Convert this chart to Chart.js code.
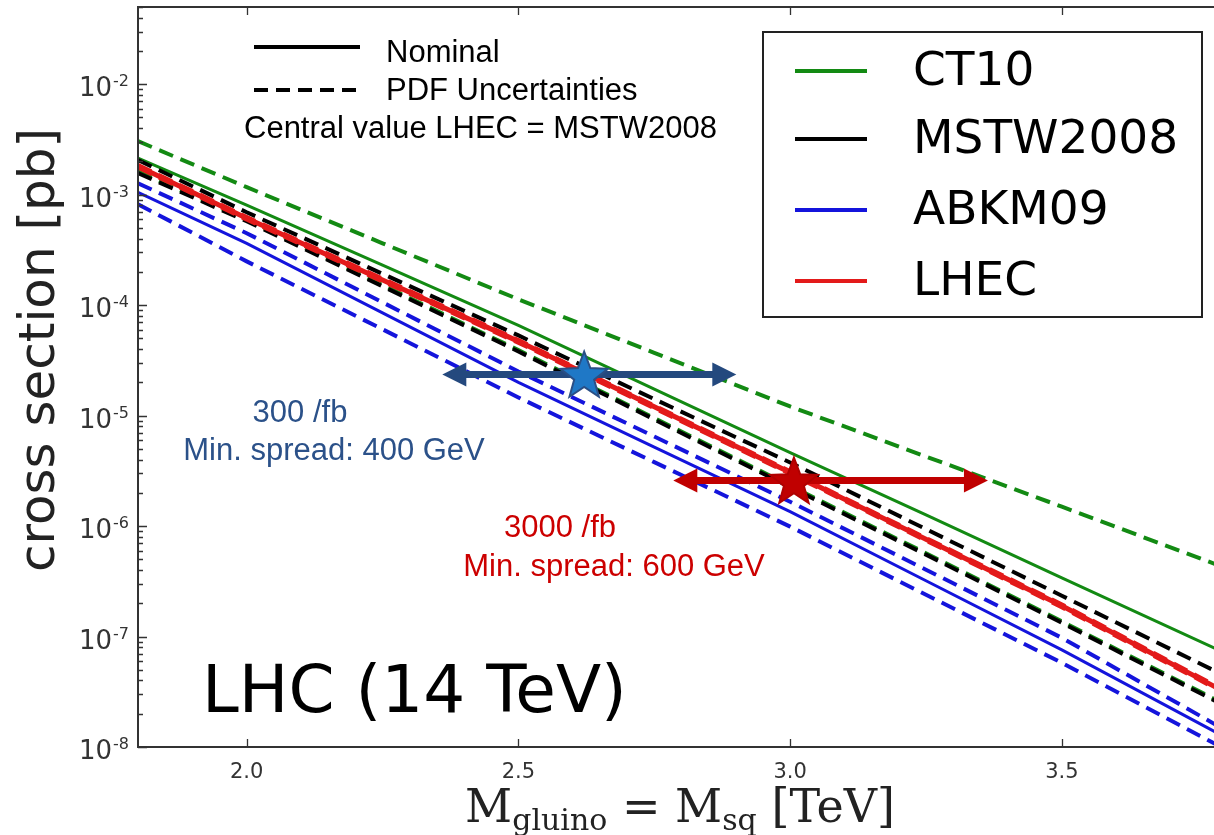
<!DOCTYPE html>
<html>
<head>
<meta charset="utf-8">
<script src="https://cdn.jsdelivr.net/npm/chart.js@4.4.1/dist/chart.umd.min.js"></script>
<style>
html,body{margin:0;padding:0;background:#fff;overflow:hidden}
canvas{display:block}
</style>
</head>
<body>
<canvas id="c" width="1214" height="835"></canvas>
<script>
// ---------------- data ----------------
const masses = [1.8, 2.0, 2.25, 2.5, 2.75, 3.0, 3.25, 3.5, 3.8]; // TeV

const ct10Nominal = [2.14e-3, 8.04e-4, 2.30e-4, 6.56e-5, 1.74e-5, 4.62e-6, 1.26e-6, 3.40e-7, 7.11e-8];
const ct10Upper   = [3.05e-3, 1.17e-3, 3.63e-4, 1.13e-4, 3.70e-5, 1.21e-5, 4.26e-6, 1.50e-6, 4.20e-7];
const ct10Lower   = [1.62e-3, 5.92e-4, 1.52e-4, 3.92e-5, 9.50e-6, 2.32e-6, 5.68e-7, 1.37e-7, 2.43e-8];

const mstwNominal = [1.81e-3, 6.12e-4, 1.69e-4, 4.70e-5, 1.20e-5, 3.05e-6, 7.60e-7, 1.90e-7, 3.15e-8];
const mstwUpper   = [2.06e-3, 6.93e-4, 1.92e-4, 5.32e-5, 1.41e-5, 3.76e-6, 9.38e-7, 2.34e-7, 4.41e-8];
const mstwLower   = [1.57e-3, 5.75e-4, 1.48e-4, 3.81e-5, 9.23e-6, 2.25e-6, 5.51e-7, 1.33e-7, 2.36e-8];

const abkmNominal = [1.05e-3, 3.63e-4, 8.51e-5, 2.00e-5, 5.19e-6, 1.35e-6, 3.20e-7, 7.57e-8, 1.23e-8];
const abkmUpper   = [1.27e-3, 4.48e-4, 1.06e-4, 2.51e-5, 6.47e-6, 1.66e-6, 4.03e-7, 9.73e-8, 1.43e-8];
const abkmLower   = [8.20e-4, 2.49e-4, 6.04e-5, 1.46e-5, 3.79e-6, 9.89e-7, 2.39e-7, 5.78e-8, 9.60e-9];

const lhecNominal = [1.81e-3, 6.12e-4, 1.69e-4, 4.70e-5, 1.20e-5, 3.05e-6, 7.60e-7, 1.90e-7, 3.15e-8];
const lhecUpper   = [1.88e-3, 6.36e-4, 1.76e-4, 4.89e-5, 1.25e-5, 3.17e-6, 7.90e-7, 1.98e-7, 3.28e-8];
const lhecLower   = [1.74e-3, 5.88e-4, 1.62e-4, 4.51e-5, 1.15e-5, 2.93e-6, 7.30e-7, 1.82e-7, 3.02e-8];

const seriesNames  = ['CT10', 'MSTW2008', 'ABKM09', 'LHEC'];
const seriesColors = ['#138a13', '#000000', '#1414dc', '#e31a1a'];

const xTickValues = [2.0, 2.5, 3.0, 3.5];
const xTickLabels = ['2.0', '2.5', '3.0', '3.5'];
const yDecades    = [-8, -7, -6, -5, -4, -3, -2];

// annotations (mass in TeV, cross section in pb)
const arrowLumi   = ['300 /fb', '3000 /fb'];
const arrowSpread = ['Min. spread: 400 GeV', 'Min. spread: 600 GeV'];
const arrowFrom   = [2.36, 2.785];
const arrowTo     = [2.901, 3.364];
const arrowXsec   = [2.36e-5, 2.58e-6];
const starMass    = [2.621, 3.007];
const starXsec    = [2.26e-5, 2.47e-6];

// ---------------- chart ----------------
const pts = arr => masses.map((m, i) => ({x: m, y: arr[i]}));
const DASH = [15, 8];
function line(label, arr, color, width, dash, order) {
  return {label, data: pts(arr), borderColor: color, backgroundColor: color,
          borderWidth: width, borderDash: dash || [], borderCapStyle: 'butt',
          pointRadius: 0, fill: false, tension: 0, order};
}

const datasets = [
  line('LHEC', lhecNominal, seriesColors[3], 5, null, 0),
  line('LHEC up', lhecUpper, seriesColors[3], 3, DASH, 1),
  line('LHEC down', lhecLower, seriesColors[3], 3, DASH, 1),
  line('ABKM09', abkmNominal, seriesColors[2], 3, null, 2),
  line('ABKM09 up', abkmUpper, seriesColors[2], 4, DASH, 2),
  line('ABKM09 down', abkmLower, seriesColors[2], 4, DASH, 2),
  line('MSTW2008', mstwNominal, seriesColors[1], 3, null, 3),
  line('MSTW2008 up', mstwUpper, seriesColors[1], 4, DASH, 3),
  line('MSTW2008 down', mstwLower, seriesColors[1], 4, DASH, 3),
  line('CT10', ct10Nominal, seriesColors[0], 3, null, 4),
  line('CT10 up', ct10Upper, seriesColors[0], 4, DASH, 4),
  line('CT10 down', ct10Lower, seriesColors[0], 4, DASH, 5)
];

function drawStar(ctx, cx, cy, R, r, fill, stroke) {
  ctx.beginPath();
  for (let i = 0; i < 10; i++) {
    const a = -Math.PI / 2 + i * Math.PI / 5;
    const rad = i % 2 ? r : R;
    ctx.lineTo(cx + rad * Math.cos(a), cy + rad * Math.sin(a));
  }
  ctx.closePath();
  ctx.fillStyle = fill; ctx.fill();
  ctx.lineWidth = 2; ctx.strokeStyle = stroke; ctx.stroke();
}
function drawArrow(ctx, x1, x2, y, color) {
  const hl = 24, hw = 12;
  ctx.strokeStyle = color; ctx.lineWidth = 7; ctx.lineCap = 'butt';
  ctx.beginPath(); ctx.moveTo(x1 + hl - 2, y); ctx.lineTo(x2 - hl + 2, y); ctx.stroke();
  ctx.fillStyle = color;
  ctx.beginPath(); ctx.moveTo(x1, y); ctx.lineTo(x1 + hl, y - hw); ctx.lineTo(x1 + hl, y + hw); ctx.closePath(); ctx.fill();
  ctx.beginPath(); ctx.moveTo(x2, y); ctx.lineTo(x2 - hl, y - hw); ctx.lineTo(x2 - hl, y + hw); ctx.closePath(); ctx.fill();
}

const decor = {
  id: 'decor',
  beforeDraw(chart) {
    const c = chart.ctx; c.save(); c.fillStyle = '#fff'; c.fillRect(0, 0, chart.width, chart.height); c.restore();
  },
  afterDatasetsDraw(chart) {
    const c = chart.ctx, xs = chart.scales.x, ys = chart.scales.y;
    c.save();
    const arrowCol = ['#24497e', '#c00000'];
    const starFill = ['#1f78c6', '#c00000'];
    const starEdge = ['#2a4f85', '#b00000'];
    for (let i = 0; i < 2; i++) {
      drawArrow(c, xs.getPixelForValue(arrowFrom[i]), xs.getPixelForValue(arrowTo[i]), ys.getPixelForValue(arrowXsec[i]), arrowCol[i]);
    }
    for (let i = 0; i < 2; i++) {
      drawStar(c, xs.getPixelForValue(starMass[i]), ys.getPixelForValue(starXsec[i]), 25, 10.5, starFill[i], starEdge[i]);
    }
    c.restore();
  },
  afterDraw(chart) {
    const c = chart.ctx, xs = chart.scales.x, ys = chart.scales.y, A = chart.chartArea;
    c.save();
    // frame
    c.strokeStyle = '#333'; c.lineWidth = 2;
    c.beginPath();
    c.moveTo(A.right + 5, A.top); c.lineTo(A.left, A.top); c.lineTo(A.left, A.bottom); c.lineTo(A.right + 5, A.bottom);
    c.stroke();
    // ticks
    c.lineWidth = 1.3;
    c.beginPath();
    xTickValues.forEach(v => {
      const px = Math.round(xs.getPixelForValue(v)) + 0.5;
      c.moveTo(px, A.bottom); c.lineTo(px, A.bottom - 8);
      c.moveTo(px, A.top); c.lineTo(px, A.top + 8);
    });
    yDecades.forEach(d => {
      const py = Math.round(ys.getPixelForValue(Math.pow(10, d))) + 0.5;
      c.moveTo(A.left, py); c.lineTo(A.left + 9, py);
      for (let k = 2; k <= 9; k++) {
        const v = k * Math.pow(10, d);
        if (v > ys.max) break;
        const pm = Math.round(ys.getPixelForValue(v)) + 0.5;
        c.moveTo(A.left, pm); c.lineTo(A.left + 5, pm);
      }
    });
    c.stroke();
    // x tick labels
    c.fillStyle = '#333';
    c.font = '21px "DejaVu Sans"'; c.textAlign = 'center'; c.textBaseline = 'alphabetic';
    xTickValues.forEach((v, i) => c.fillText(xTickLabels[i], xs.getPixelForValue(v), A.bottom + 31));
    // y tick labels 10^d
    yDecades.forEach(d => {
      const py = ys.getPixelForValue(Math.pow(10, d));
      const ex = '-' + (-d);
      c.font = '16px "DejaVu Sans"';
      const we = c.measureText(ex).width;
      c.textAlign = 'left';
      c.fillText(ex, 129 - we, py + 2);
      c.font = '26px "DejaVu Sans"';
      const wb = c.measureText('10').width;
      c.fillText('10', 129 - we - wb - 1, py + 12);
    });
    // y axis title
    c.fillStyle = '#222';
    c.save();
    c.translate(54, 350); c.rotate(-Math.PI / 2);
    c.font = '50px "DejaVu Sans"'; c.textAlign = 'center'; c.textBaseline = 'alphabetic';
    c.fillText('cross section [pb]', 0, 0);
    c.restore();
    // x axis title with subscripts
    const big = '46px "DejaVu Serif"', small = '30px "DejaVu Serif"';
    const parts = [['M', big, 0], ['gluino', small, 8], [' = M', big, 0], ['sq', small, 8], [' [TeV]', big, 0]];
    let tw = 0;
    parts.forEach(p => { c.font = p[1]; tw += c.measureText(p[0]).width; });
    let xx = 680 - tw / 2;
    c.textAlign = 'left';
    parts.forEach(p => { c.font = p[1]; c.fillText(p[0], xx, 822 + p[2]); xx += c.measureText(p[0]).width; });

    // top-left style key
    c.strokeStyle = '#000'; c.lineWidth = 4;
    c.beginPath(); c.moveTo(254, 47); c.lineTo(360, 47); c.stroke();
    c.setLineDash([14, 8]);
    c.beginPath(); c.moveTo(254, 90); c.lineTo(360, 90); c.stroke();
    c.setLineDash([]);
    c.fillStyle = '#000'; c.textBaseline = 'middle'; c.textAlign = 'left';
    c.font = '31px "Liberation Sans"';
    c.fillText('Nominal', 386, 53);
    c.fillText('PDF Uncertainties', 386, 91);
    c.fillText('Central value LHEC = MSTW2008', 244, 129);

    // legend box
    c.fillStyle = '#fff';
    c.fillRect(763, 32, 439, 285);
    c.strokeStyle = '#222'; c.lineWidth = 2;
    c.strokeRect(763, 32, 439, 285);
    const ly = [71, 139, 210, 281];
    c.font = '47px "DejaVu Sans"'; c.textBaseline = 'middle';
    seriesNames.forEach((n, i) => {
      c.strokeStyle = seriesColors[i]; c.lineWidth = 4;
      c.beginPath(); c.moveTo(795, ly[i]); c.lineTo(867, ly[i]); c.stroke();
      c.fillStyle = '#000';
      c.fillText(n, 913, ly[i] + 2);
    });

    // LHC label
    c.font = '66px "DejaVu Sans"'; c.textBaseline = 'alphabetic'; c.fillStyle = '#000';
    c.fillText('LHC (14 TeV)', 202, 712);

    // luminosity annotations
    c.textAlign = 'center'; c.textBaseline = 'middle';
    c.font = '31px "Liberation Sans"';
    c.fillStyle = '#2b5189';
    c.fillText(arrowLumi[0], 300, 413);
    c.fillText(arrowSpread[0], 334, 451);
    c.fillStyle = '#cc0000';
    c.fillText(arrowLumi[1], 560, 528);
    c.fillText(arrowSpread[1], 614, 567);
    c.restore();
  }
};

new Chart(document.getElementById('c'), {
  type: 'line',
  data: {datasets},
  options: {
    responsive: false,
    animation: false,
    devicePixelRatio: 1,
    layout: {padding: {left: 138, top: 7, right: 0, bottom: 88}},
    plugins: {legend: {display: false}, tooltip: {enabled: false}},
    scales: {
      x: {type: 'linear', min: 1.8, max: 3.78, display: false},
      y: {type: 'logarithmic', min: 1e-8, max: 0.05, display: false}
    }
  },
  plugins: [decor]
});
</script>
</body>
</html>
